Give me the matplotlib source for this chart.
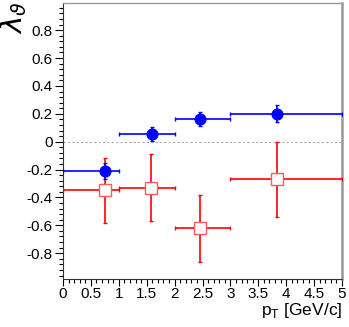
import matplotlib
matplotlib.use('Agg')
import matplotlib.pyplot as plt
from matplotlib.ticker import MultipleLocator, FixedLocator

# pT bins
pt_lo = [0.0, 1.0, 2.0, 3.0]
pt_hi = [1.0, 2.0, 3.0, 5.0]

# blue (filled circles)
blue_pt = [0.75, 1.59, 2.46, 3.84]
blue_lam = [-0.21, 0.055, 0.16, 0.20]
blue_err = [0.06, 0.05, 0.05, 0.06]

# red (open squares)
red_pt = [0.75, 1.58, 2.46, 3.84]
red_lam = [-0.35, -0.33, -0.62, -0.27]
red_err = [0.23, 0.24, 0.24, 0.27]

y_ticks = [-0.8, -0.6, -0.4, -0.2, 0, 0.2, 0.4, 0.6, 0.8]
y_labels = ['-0.8', '-0.6', '-0.4', '-0.2', '0', '0.2', '0.4', '0.6', '0.8']
x_ticks = [0, 0.5, 1, 1.5, 2, 2.5, 3, 3.5, 4, 4.5, 5]
x_labels = ['0', '0.5', '1', '1.5', '2', '2.5', '3', '3.5', '4', '4.5', '5']

plt.rcParams['font.family'] = ['Liberation Sans', 'DejaVu Sans']
plt.rcParams['mathtext.fontset'] = 'dejavusans'


def x_errors(pts):
    # asymmetric horizontal bars spanning each bin
    lo = [p - a for p, a in zip(pts, pt_lo)]
    hi = [b - p for p, b in zip(pts, pt_hi)]
    return [lo, hi]


fig = plt.figure(figsize=(3.49, 3.27), dpi=100)
ax = fig.add_axes([63 / 349, 1 - 279 / 327, (342 - 63) / 349, (279 - 3) / 327])

ax.axhline(0, color='#aaaaaa', lw=0.7, ls=(0, (2.5, 2)), zorder=1)

ax.errorbar(red_pt, red_lam, xerr=x_errors(red_pt), yerr=red_err,
            fmt='s', color='red', ecolor='red', elinewidth=1.2,
            capsize=1.6, capthick=1.0, markersize=8,
            markerfacecolor='white', markeredgecolor='#ff5a5a',
            markeredgewidth=1.0, zorder=3)
ax.errorbar(blue_pt, blue_lam, xerr=x_errors(blue_pt), yerr=blue_err,
            fmt='o', color='blue', ecolor='blue', elinewidth=1.2,
            capsize=1.6, capthick=1.0, markersize=7.7, zorder=4)

ax.set_xlim(0, 5)
ax.set_ylim(-0.985, 0.995)

ax.xaxis.set_major_locator(FixedLocator(x_ticks))
ax.set_xticklabels(x_labels)
ax.xaxis.set_minor_locator(MultipleLocator(0.1))
ax.yaxis.set_major_locator(FixedLocator(y_ticks))
ax.set_yticklabels(y_labels)
ax.yaxis.set_minor_locator(MultipleLocator(0.04))

ax.tick_params(which='major', direction='out', length=6, width=0.8,
               labelsize=11, pad=1.5)
ax.tick_params(axis='x', which='major', length=5, pad=1)
ax.tick_params(which='minor', direction='out', length=3.2, width=0.8)

for side in ['left', 'bottom']:
    ax.spines[side].set_color('#333333')
    ax.spines[side].set_linewidth(0.8)
ax.spines['top'].set_color('#999999')
ax.spines['top'].set_linewidth(1.0)
ax.spines['right'].set_color('#999999')
ax.spines['right'].set_linewidth(1.8)

fig.text(14 / 349, 1 - 1 / 327, r'$\lambda_{\vartheta}$', rotation=90,
         ha='center', va='top', fontsize=21)
fig.text(342 / 349, 1 - 315 / 327, r'p$_{\mathregular{T}}$ [GeV/c]',
         ha='right', va='baseline', fontsize=12.5)

fig.savefig('out.png', dpi=100)
